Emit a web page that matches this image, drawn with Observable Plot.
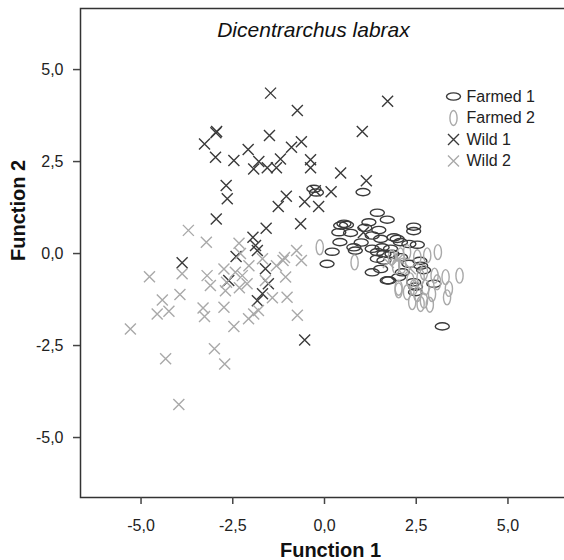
<!DOCTYPE html>
<html>
<head>
<meta charset="utf-8">
<script src="https://cdn.jsdelivr.net/npm/d3@7"></script>
<script src="https://cdn.jsdelivr.net/npm/@observablehq/plot@0.6"></script>
<style>
  html, body { margin: 0; padding: 0; background: #fff; overflow: hidden; }
  #chart { width: 564px; height: 560px; overflow: hidden; }
  #chart svg { overflow: hidden; }
</style>
</head>
<body>
<div id="chart"></div>
<script>
const title = "Dicentrarchus labrax";
const xLabel = "Function 1";
const yLabel = "Function 2";
const tickValues = [-5, -2.5, 0, 2.5, 5];
const groups = ["Farmed 1", "Farmed 2", "Wild 1", "Wild 2"];

const farmed1 = [[1.05,1.67],[1.44,1.11],[1.71,0.92],[0.60,0.78],[1.21,0.85],[2.43,0.73],[2.43,0.61],[0.39,0.58],[0.71,0.56],[1.48,0.64],[0.42,0.31],[0.21,0.05],[0.07,-0.28],[0.80,0.17],[0.84,0.08],[1.30,0.13],[1.53,0.40],[1.89,0.44],[2.07,0.31],[2.30,0.26],[2.53,0.24],[1.44,0.04],[1.80,0.13],[1.44,-0.14],[1.62,-0.19],[1.30,-0.51],[1.53,-0.42],[1.71,-0.73],[2.02,-0.64],[2.48,-0.90],[2.48,-1.05],[2.98,-0.82],[3.21,-1.98],[-0.29,1.76],[-0.22,1.66],[0.53,0.81],[1.30,0.49],[1.98,0.40],[1.57,0.17],[2.07,-0.10],[2.30,-0.28],[2.62,-0.33],[1.84,-0.01],[2.12,-0.51],[2.43,-0.78],[1.75,-0.73],[1.62,-0.01],[0.44,0.76],[1.10,0.70],[1.00,0.30],[2.60,-0.20],[2.70,-0.45]];

const farmed2 = [[-0.13,0.17],[0.82,-0.24],[2.02,-0.93],[2.12,-0.33],[2.80,-0.05],[3.09,0.04],[3.68,-0.60],[3.30,-0.64],[3.07,-0.78],[3.39,-0.96],[3.34,-1.19],[2.93,-1.10],[2.71,-1.28],[2.39,-1.32],[2.62,-1.37],[2.87,-1.39],[2.53,-1.10],[2.25,-1.05],[2.34,-0.73],[2.71,-0.51],[2.53,-0.10],[1.84,-0.10],[2.07,-0.05],[2.25,0.04],[2.62,-0.64],[2.43,-0.92],[2.75,-0.92],[2.02,-1.00],[3.00,-0.60],[1.95,-0.35]];

const wild1 = [[-1.47,4.36],[-0.74,3.89],[1.72,4.14],[-2.94,3.32],[-2.96,3.28],[-1.50,3.21],[1.03,3.32],[-3.27,2.98],[-0.90,2.89],[-0.63,3.04],[-2.08,2.83],[-2.97,2.62],[-2.47,2.53],[-1.79,2.50],[-1.93,2.30],[-1.56,2.33],[-1.31,2.33],[-1.20,2.57],[-0.38,2.55],[-0.38,2.33],[0.44,2.19],[1.14,1.98],[-2.68,1.85],[-2.65,1.49],[0.18,1.68],[-1.04,1.56],[-1.26,1.28],[-0.54,1.41],[-0.16,1.28],[-0.25,1.71],[-2.95,0.94],[-1.59,0.69],[-0.65,0.81],[-1.95,0.44],[-1.88,0.22],[1.06,0.57],[-3.88,-0.25],[-2.41,-0.08],[-1.83,0.08],[-2.61,-0.73],[-1.83,-1.28],[-0.54,-2.35],[-1.61,-0.41],[-1.53,-0.82],[-1.69,-1.09]];

const wild2 = [[-3.71,0.63],[-3.22,0.31],[-2.33,0.28],[-4.77,-0.63],[-3.88,-0.55],[-3.20,-0.60],[-2.74,-0.42],[-2.43,-0.51],[-3.11,-0.87],[-2.67,-0.78],[-2.24,-0.60],[-2.06,-0.33],[-2.70,-1.01],[-2.32,-0.93],[-4.42,-1.26],[-4.56,-1.64],[-4.24,-1.57],[-3.94,-1.11],[-3.31,-1.48],[-3.27,-1.71],[-2.74,-1.46],[-5.29,-2.05],[-2.47,-1.98],[-3.00,-2.59],[-2.72,-3.00],[-4.33,-2.86],[-3.97,-4.10],[-1.93,-1.64],[-2.11,-0.82],[-2.29,0.00],[-1.69,-0.14],[-1.31,-0.33],[-1.09,-0.11],[-0.76,0.08],[-1.61,-0.73],[-1.42,-1.20],[-2.07,-1.77],[-1.80,-1.55],[-1.13,-0.19],[-0.63,-0.19],[-1.06,-0.64],[-1.02,-1.19],[-0.74,-1.68],[2.02,-0.14],[2.34,-0.41],[1.74,-0.24]];

const dark = "#3a3a3a";
const light = "#a9a9a9";
const font = "'Liberation Sans', Arial, sans-serif";

function ellipsePath(ctx, rx, ry) {
  const k = 0.5523;
  ctx.moveTo(rx, 0);
  ctx.bezierCurveTo(rx, ry * k, rx * k, ry, 0, ry);
  ctx.bezierCurveTo(-rx * k, ry, -rx, ry * k, -rx, 0);
  ctx.bezierCurveTo(-rx, -ry * k, -rx * k, -ry, 0, -ry);
  ctx.bezierCurveTo(rx * k, -ry, rx, -ry * k, rx, 0);
  ctx.closePath();
}
const symH = { draw(ctx) { ellipsePath(ctx, 7, 3.6); } };
const symV = { draw(ctx) { ellipsePath(ctx, 3.6, 7.5); } };
const symX = { draw(ctx) { const r = 5.5; ctx.moveTo(-r, -r); ctx.lineTo(r, r); ctx.moveTo(-r, r); ctx.lineTo(r, -r); } };

const series = [
  { name: groups[0], data: farmed1, symbol: symH, color: dark },
  { name: groups[1], data: farmed2, symbol: symV, color: light },
  { name: groups[2], data: wild1, symbol: symX, color: dark },
  { name: groups[3], data: wild2, symbol: symX, color: light }
];

const fmt = d => d.toFixed(1).replace(".", ",");

const marks = [];
marks.push(Plot.frame({ stroke: "#333", strokeWidth: 1.5 }));
marks.push(Plot.axisX({ ticks: tickValues, tickFormat: fmt, tickSize: 7, tickPadding: 15, label: null, fontSize: 16, color: "#222", stroke: "#444", strokeWidth: 1.5 }));
marks.push(Plot.axisY({ ticks: tickValues, tickFormat: fmt, tickSize: 7, tickPadding: 10, label: null, fontSize: 16, color: "#222", stroke: "#444", strokeWidth: 1.5 }));

for (const s of series) {
  marks.push(Plot.dot(s.data, { x: d => d[0], y: d => d[1], symbol: () => s.symbol, fill: "none", stroke: s.color, strokeWidth: 1.4 }));
}

// legend
series.forEach((s, i) => {
  marks.push(Plot.dot([s.name], { frameAnchor: "top-left", dx: 453 - 80, dy: 96 - 8 + i * 21.5, symbol: () => s.symbol, fill: "none", stroke: s.color, strokeWidth: 1.4 }));
  marks.push(Plot.text([s.name], { frameAnchor: "top-left", dx: 466 - 80, dy: 96 - 8 + i * 21.5, text: d => d, textAnchor: "start", lineAnchor: "middle", fontSize: 16, fill: "#222" }));
});

marks.push(Plot.text([title], { frameAnchor: "top", dx: -11, dy: 22, text: d => d, fontSize: 21, fontStyle: "italic", fill: "#111", lineAnchor: "middle" }));
marks.push(Plot.text([xLabel], { frameAnchor: "bottom", dx: 6, dy: 53, text: d => d, fontSize: 20, fontWeight: "bold", fill: "#111", lineAnchor: "middle" }));
marks.push(Plot.text([yLabel], { frameAnchor: "left", dx: -62, dy: 8, text: d => d, fontSize: 20, fontWeight: "bold", fill: "#111", rotate: -90, lineAnchor: "middle" }));

const chart = Plot.plot({
  width: 564,
  height: 560,
  marginLeft: 80,
  marginRight: -4,
  marginTop: 8,
  marginBottom: 63,
  style: { fontFamily: font, background: "#fff", overflow: "hidden" },
  x: { domain: [-6.65, 6.65] },
  y: { domain: [-6.63, 6.66] },
  symbol: { type: "identity" },
  marks
});
document.getElementById("chart").appendChild(chart);
</script>
</body>
</html>
